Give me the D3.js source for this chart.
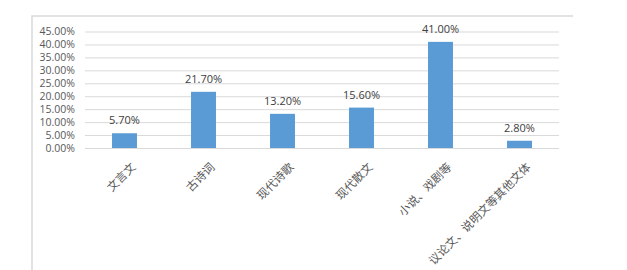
<!DOCTYPE html>
<meta charset="utf-8">
<style>
    body { margin: 0; background: #fff; }
    svg { display: block; }
    .frame { fill: none; stroke: #d9d9d9; stroke-width: 1.5; }
    .grid line { stroke: #d9d9d9; stroke-width: 1; }
    .grid path { display: none; }
    .y.axis path, .y.axis line, .x.axis path, .x.axis line { display: none; }
    .y.axis text { font: 10.5px "Open Sans", "Noto Sans", sans-serif; fill: #595959; }
    .x.axis text { font: 11.5px "Noto Sans CJK SC", sans-serif; fill: #595959; }
    .bar { fill: #5b9bd5; }
    .label { font: 11px "Open Sans", "Noto Sans", sans-serif; fill: #404040; text-anchor: middle; }
</style>
<body>
<script src="https://d3js.org/d3.v7.min.js"></script>
<script>

    // 文体类别与占比
    var categories = ["文言文", "古诗词", "现代诗歌", "现代散文", "小说、戏剧等", "议论文、说明文等其他文体"];
    var values = [5.7, 21.7, 13.2, 15.6, 41.0, 2.8];
    var yTicks = [0, 5, 10, 15, 20, 25, 30, 35, 40, 45];

    var W = 627, H = 270;
    var margin = {top: 31.5, left: 85, right: 68, bottom: 122};
    var width = W - margin.left - margin.right,
        height = H - margin.top - margin.bottom;

    var svg = d3.select("body").append("svg")
        .attr("width", W)
        .attr("height", H);

    // outer chart frame (cropped at right/bottom like the screenshot)
    svg.append("path")
        .attr("class", "frame")
        .attr("d", "M32,272V16H573");

    var g = svg.append("g")
        .attr("transform", "translate(" + margin.left + "," + margin.top + ")");

    var x = d3.scaleBand()
        .domain(categories)
        .range([0, width])
        .paddingInner(0.684)
        .paddingOuter(0.342);

    var y = d3.scaleLinear()
        .domain([0, 45])
        .range([height, 0]);

    g.append("g")
        .attr("class", "grid")
        .call(d3.axisLeft(y).tickValues(yTicks).tickSize(-width).tickFormat(""));

    g.append("g")
        .attr("class", "y axis")
        .attr("transform", "translate(-7,0)")
        .call(d3.axisLeft(y).tickValues(yTicks).tickSize(0).tickFormat(function(d) { return d.toFixed(2) + "%"; }));

    g.selectAll("rect.bar")
        .data(values)
        .enter().append("rect")
        .attr("class", "bar")
        .attr("x", function(d, i) { return x(categories[i]); })
        .attr("width", x.bandwidth())
        .attr("y", function(d) { return y(d); })
        .attr("height", function(d) { return height - y(d); });

    g.selectAll("text.label")
        .data(values)
        .enter().append("text")
        .attr("class", "label")
        .attr("x", function(d, i) { return x(categories[i]) + x.bandwidth() / 2; })
        .attr("y", function(d) { return y(d) - 9; })
        .text(function(d) { return d.toFixed(2) + "%"; });

    var xAxis = g.append("g")
        .attr("class", "x axis")
        .attr("transform", "translate(0," + height + ")")
        .call(d3.axisBottom(x).tickSize(0));

    xAxis.selectAll("text")
        .attr("text-anchor", "end")
        .attr("dy", "0.35em")
        .attr("transform", "translate(9,17) rotate(-45)")
        .attr("y", 0)
        .attr("x", 0);

</script>
</body>
